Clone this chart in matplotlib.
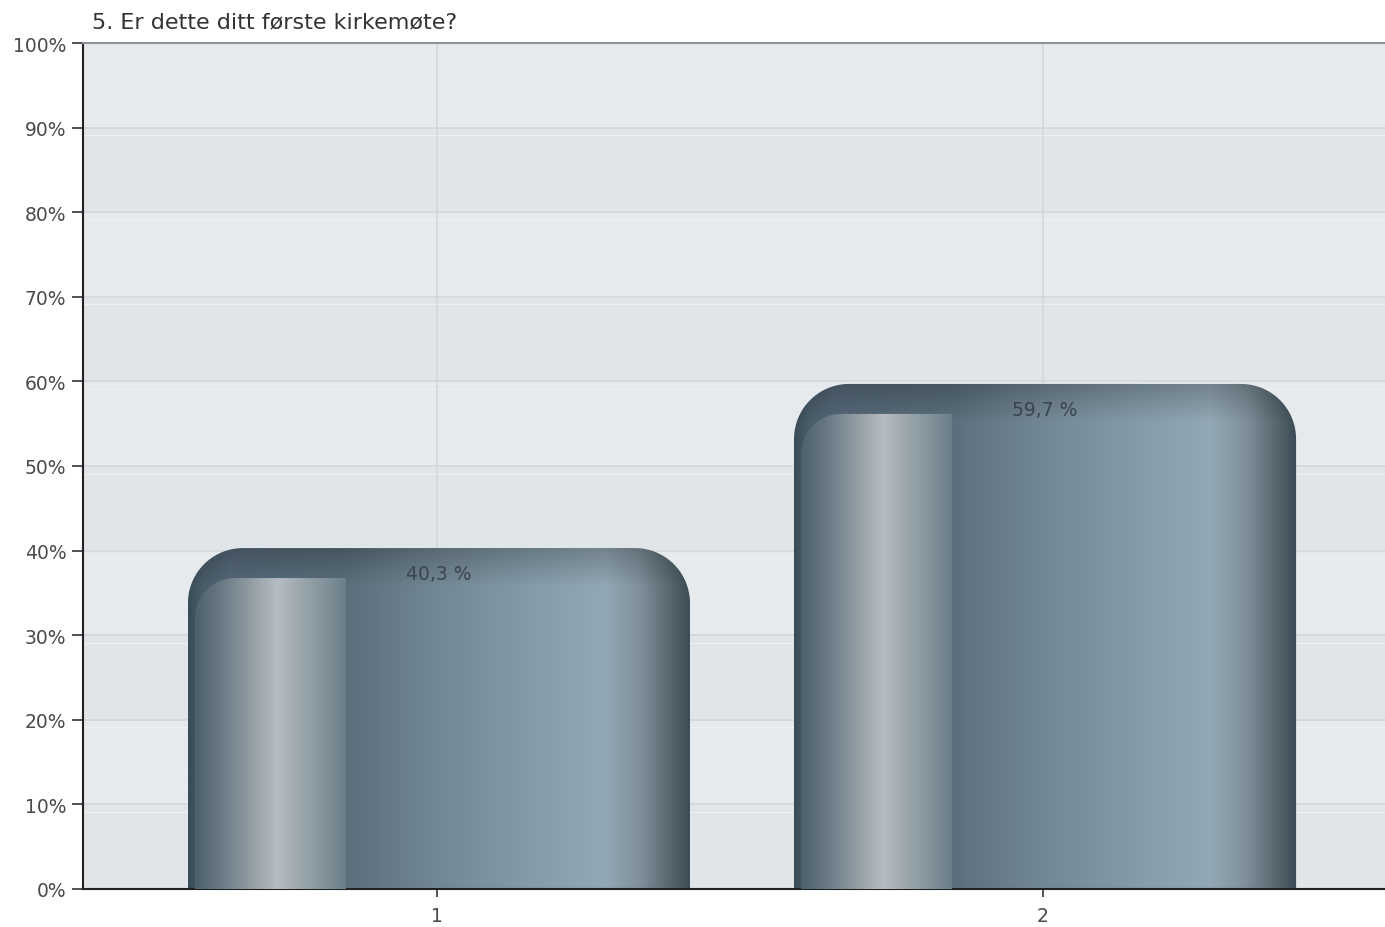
import numpy as np
import matplotlib
matplotlib.use("Agg")
import matplotlib.pyplot as plt
from matplotlib.path import Path
from matplotlib.patches import PathPatch
from matplotlib.colors import to_rgb

# ---- data ----
title = "5. Er dette ditt første kirkemøte?"
categories = ["1", "2"]
values = [40.3, 59.7]
value_labels = ["40,3 %", "59,7 %"]
yticks = [0, 10, 20, 30, 40, 50, 60, 70, 80, 90, 100]
ytick_labels = [f"{t}%" for t in yticks]

W, H = 1385, 928
fig = plt.figure(figsize=(W / 100, H / 100), dpi=100)
fig.patch.set_facecolor("white")
ax_left, ax_right = 83 / W, 1397 / W
ax_bottom, ax_top = 1 - 890 / H, 1 - 44 / H
ax = fig.add_axes([ax_left, ax_bottom, ax_right - ax_left, ax_top - ax_bottom])

x = np.arange(1, len(categories) + 1)
ax.set_xlim(0.416, 2.584)
ax.set_ylim(0, 100)

# background bands
ax.set_facecolor("#e7eaed")
for lo in range(0, 100, 20):
    ax.axhspan(lo, lo + 10, color="#e2e5e8", zorder=0, lw=0)
for t in yticks[1:-1]:
    ax.axhline(t, color="#d3d6da", lw=1.2, zorder=0.5)
    ax.axhline(t - 0.9, color="#eef0f2", lw=0.8, zorder=0.5)
for xi in x:
    ax.axvline(xi, color="#d3d6da", lw=1.2, zorder=0.5)

bar_w = 502 / 606
px_x = 1 / 606.0      # data units per pixel in x
px_y = 100 / 846.0    # data units per pixel in y


def rounded_top_path(x0, x1, y0, y1, rx, ry, n=20):
    verts = [(x0, y0), (x0, y1 - ry)]
    th = np.linspace(np.pi, np.pi / 2, n)
    verts += [(x0 + rx + rx * np.cos(t), y1 - ry + ry * np.sin(t)) for t in th]
    verts += [(x1 - rx, y1)]
    th = np.linspace(np.pi / 2, 0, n)
    verts += [(x1 - rx + rx * np.cos(t), y1 - ry + ry * np.sin(t)) for t in th]
    verts += [(x1, y0), (x0, y0)]
    codes = [Path.MOVETO] + [Path.LINETO] * (len(verts) - 2) + [Path.CLOSEPOLY]
    return Path(verts, codes)


def gradient(stops, n=300):
    pos = np.array([s[0] for s in stops])
    cols = np.array([to_rgb(s[1]) for s in stops])
    xs = np.linspace(0, 1, n)
    return np.stack([np.interp(xs, pos, cols[:, i]) for i in range(3)], axis=1)


main_stops = [(0.0, "#3a4c58"), (0.03, "#4a5d69"), (0.08, "#56697a"),
              (0.31, "#5a6f7b"), (0.5, "#738895"), (0.7, "#879dab"),
              (0.83, "#93a8b5"), (0.9, "#7f909b"), (0.96, "#56676f"),
              (1.0, "#3c4b55")]
strip_stops = [(0.0, "#4c5f6b"), (0.2, "#6e7e88"), (0.4, "#98a2a8"),
               (0.55, "#b6bdc2"), (0.7, "#9ba7ad"), (0.85, "#84949c"),
               (1.0, "#6a7e88")]

for xi, v, lab in zip(x, values, value_labels):
    x0, x1 = xi - bar_w / 2 + 2 * px_x, xi + bar_w / 2 + 2 * px_x
    rx, ry = 55 * px_x, 55 * px_y
    path = rounded_top_path(x0, x1, 0, v, rx, ry)
    patch = PathPatch(path, facecolor="none", edgecolor="none", zorder=2)
    ax.add_patch(patch)
    ny = 200
    g = gradient(main_stops)
    img = np.repeat(g[None, :, :], ny, axis=0)
    yy = np.linspace(v, 0, ny)
    top_dark = np.clip((yy - (v - 4.5)) / 4.5, 0, 1)
    shade = 1 - 0.22 * top_dark
    img = img * shade[:, None, None]
    im = ax.imshow(img, extent=[x0, x1, 0, v], aspect="auto",
                   interpolation="bilinear", zorder=2)
    im.set_clip_path(patch)

    # inner left highlight strip
    sx0, sx1 = x0 + 7 * px_x, x0 + 157 * px_x
    sy1 = v - 30 * px_y
    spath = rounded_top_path(sx0, sx1 + 0.3, 0, sy1, 40 * px_x, 40 * px_y)
    spatch = PathPatch(spath, facecolor="none", edgecolor="none", zorder=3)
    ax.add_patch(spatch)
    sg = gradient(strip_stops)
    simg = np.repeat(sg[None, :, :], 50, axis=0)
    sim = ax.imshow(simg, extent=[sx0, sx1, 0, sy1], aspect="auto",
                    interpolation="bilinear", zorder=3)
    sim.set_clip_path(spatch)

    ax.text(xi + 2 * px_x, v - 3.0, lab, ha="center", va="center",
            fontsize=13.5, color="#3a444c", zorder=5, family="DejaVu Sans")

# axes styling
ax.spines["right"].set_visible(False)
ax.spines["top"].set_color("#8e9296")
ax.spines["top"].set_linewidth(1.5)
ax.spines["left"].set_color("#222222")
ax.spines["left"].set_linewidth(1.5)
ax.spines["bottom"].set_color("#222222")
ax.spines["bottom"].set_linewidth(1.5)

ax.set_yticks(yticks)
ax.set_yticklabels(ytick_labels, fontsize=13.5, color="#4a4a4a",
                   family="DejaVu Sans")
ax.set_xticks(x)
ax.set_xticklabels(categories, fontsize=13.5, color="#4a4a4a",
                   family="DejaVu Sans")
ax.tick_params(axis="y", length=8, width=1.2, color="#333333", pad=4)
ax.tick_params(axis="x", length=6, width=1.2, color="#333333", pad=6)

fig.text(92 / W, 1 - 22 / H, title, ha="left", va="center", fontsize=16,
         color="#333333", family="DejaVu Sans")

fig.savefig("out.png", dpi=100)
